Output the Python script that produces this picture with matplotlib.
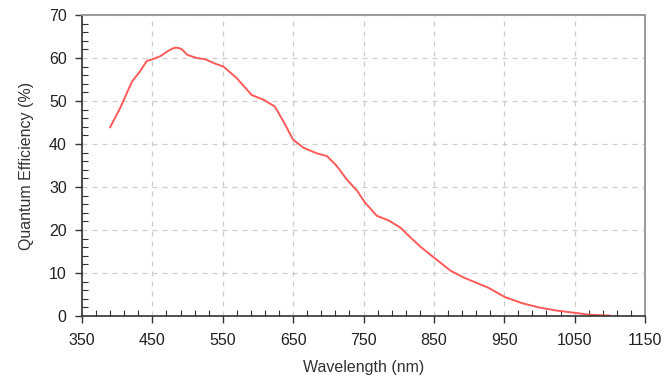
import matplotlib.pyplot as plt
from matplotlib.ticker import MultipleLocator

wavelength = [390, 404, 421, 432, 442, 450, 461, 473, 480, 484, 488, 492, 500, 513, 525, 539,
              551, 570, 591, 608, 624, 636, 650, 665, 684, 698, 712, 726, 741, 752,
              769, 786, 802, 821, 831, 850, 874, 893, 927, 951, 975, 999, 1023, 1052,
              1071, 1100]
qe = [43.9, 48.3, 54.5, 56.8, 59.3, 59.7, 60.4, 61.7, 62.3, 62.4, 62.3, 62.0, 60.7, 60.0, 59.7, 58.7,
      58.0, 55.3, 51.4, 50.3, 48.7, 45.3, 41.0, 39.1, 37.8, 37.2, 34.9, 31.8, 29.1, 26.4,
      23.3, 22.2, 20.6, 17.6, 16.1, 13.6, 10.5, 8.9, 6.6, 4.4, 3.0, 2.0, 1.3, 0.7,
      0.3, 0.1]

plt.rcParams['font.family'] = ['Liberation Sans', 'DejaVu Sans']

fig = plt.figure(figsize=(6.67, 3.86), dpi=100)
ax = fig.add_axes([82 / 667, 1 - 316 / 386, (645 - 82) / 667, (316 - 15) / 386])

ax.plot(wavelength, qe, color='#ff5a5a', linewidth=1.4, solid_joinstyle='round')

ax.set_xlim(350, 1150)
ax.set_ylim(0, 70)
# ticks sit at 350, 450, ... so shift the locators by 50 / 10
ax.xaxis.set_major_locator(MultipleLocator(100, offset=50))
ax.xaxis.set_minor_locator(MultipleLocator(20, offset=10))
ax.yaxis.set_major_locator(MultipleLocator(10))
ax.yaxis.set_minor_locator(MultipleLocator(2))

ax.tick_params(which='major', direction='out', length=5, width=1, color='#333333',
               labelsize=11.5, labelcolor='#222222')
ax.tick_params(which='minor', direction='in', length=4, width=0.8, color='#333333')
ax.tick_params(axis='x', pad=7)
ax.tick_params(axis='y', pad=6)

ax.grid(True, which='major', linestyle=(0, (4, 4)), color='#cccccc', linewidth=0.9)

for side in ['left', 'bottom']:
    ax.spines[side].set_color('#333333')
    ax.spines[side].set_linewidth(1.2)
for side in ['top', 'right']:
    ax.spines[side].set_color('#999999')
    ax.spines[side].set_linewidth(1.4)

ax.set_xlabel('Wavelength (nm)', fontsize=11.5, color='#333333', labelpad=9)
ax.set_ylabel('Quantum Efficiency (%)', fontsize=11.5, color='#333333', labelpad=11)

fig.savefig('out.png', dpi=100)
